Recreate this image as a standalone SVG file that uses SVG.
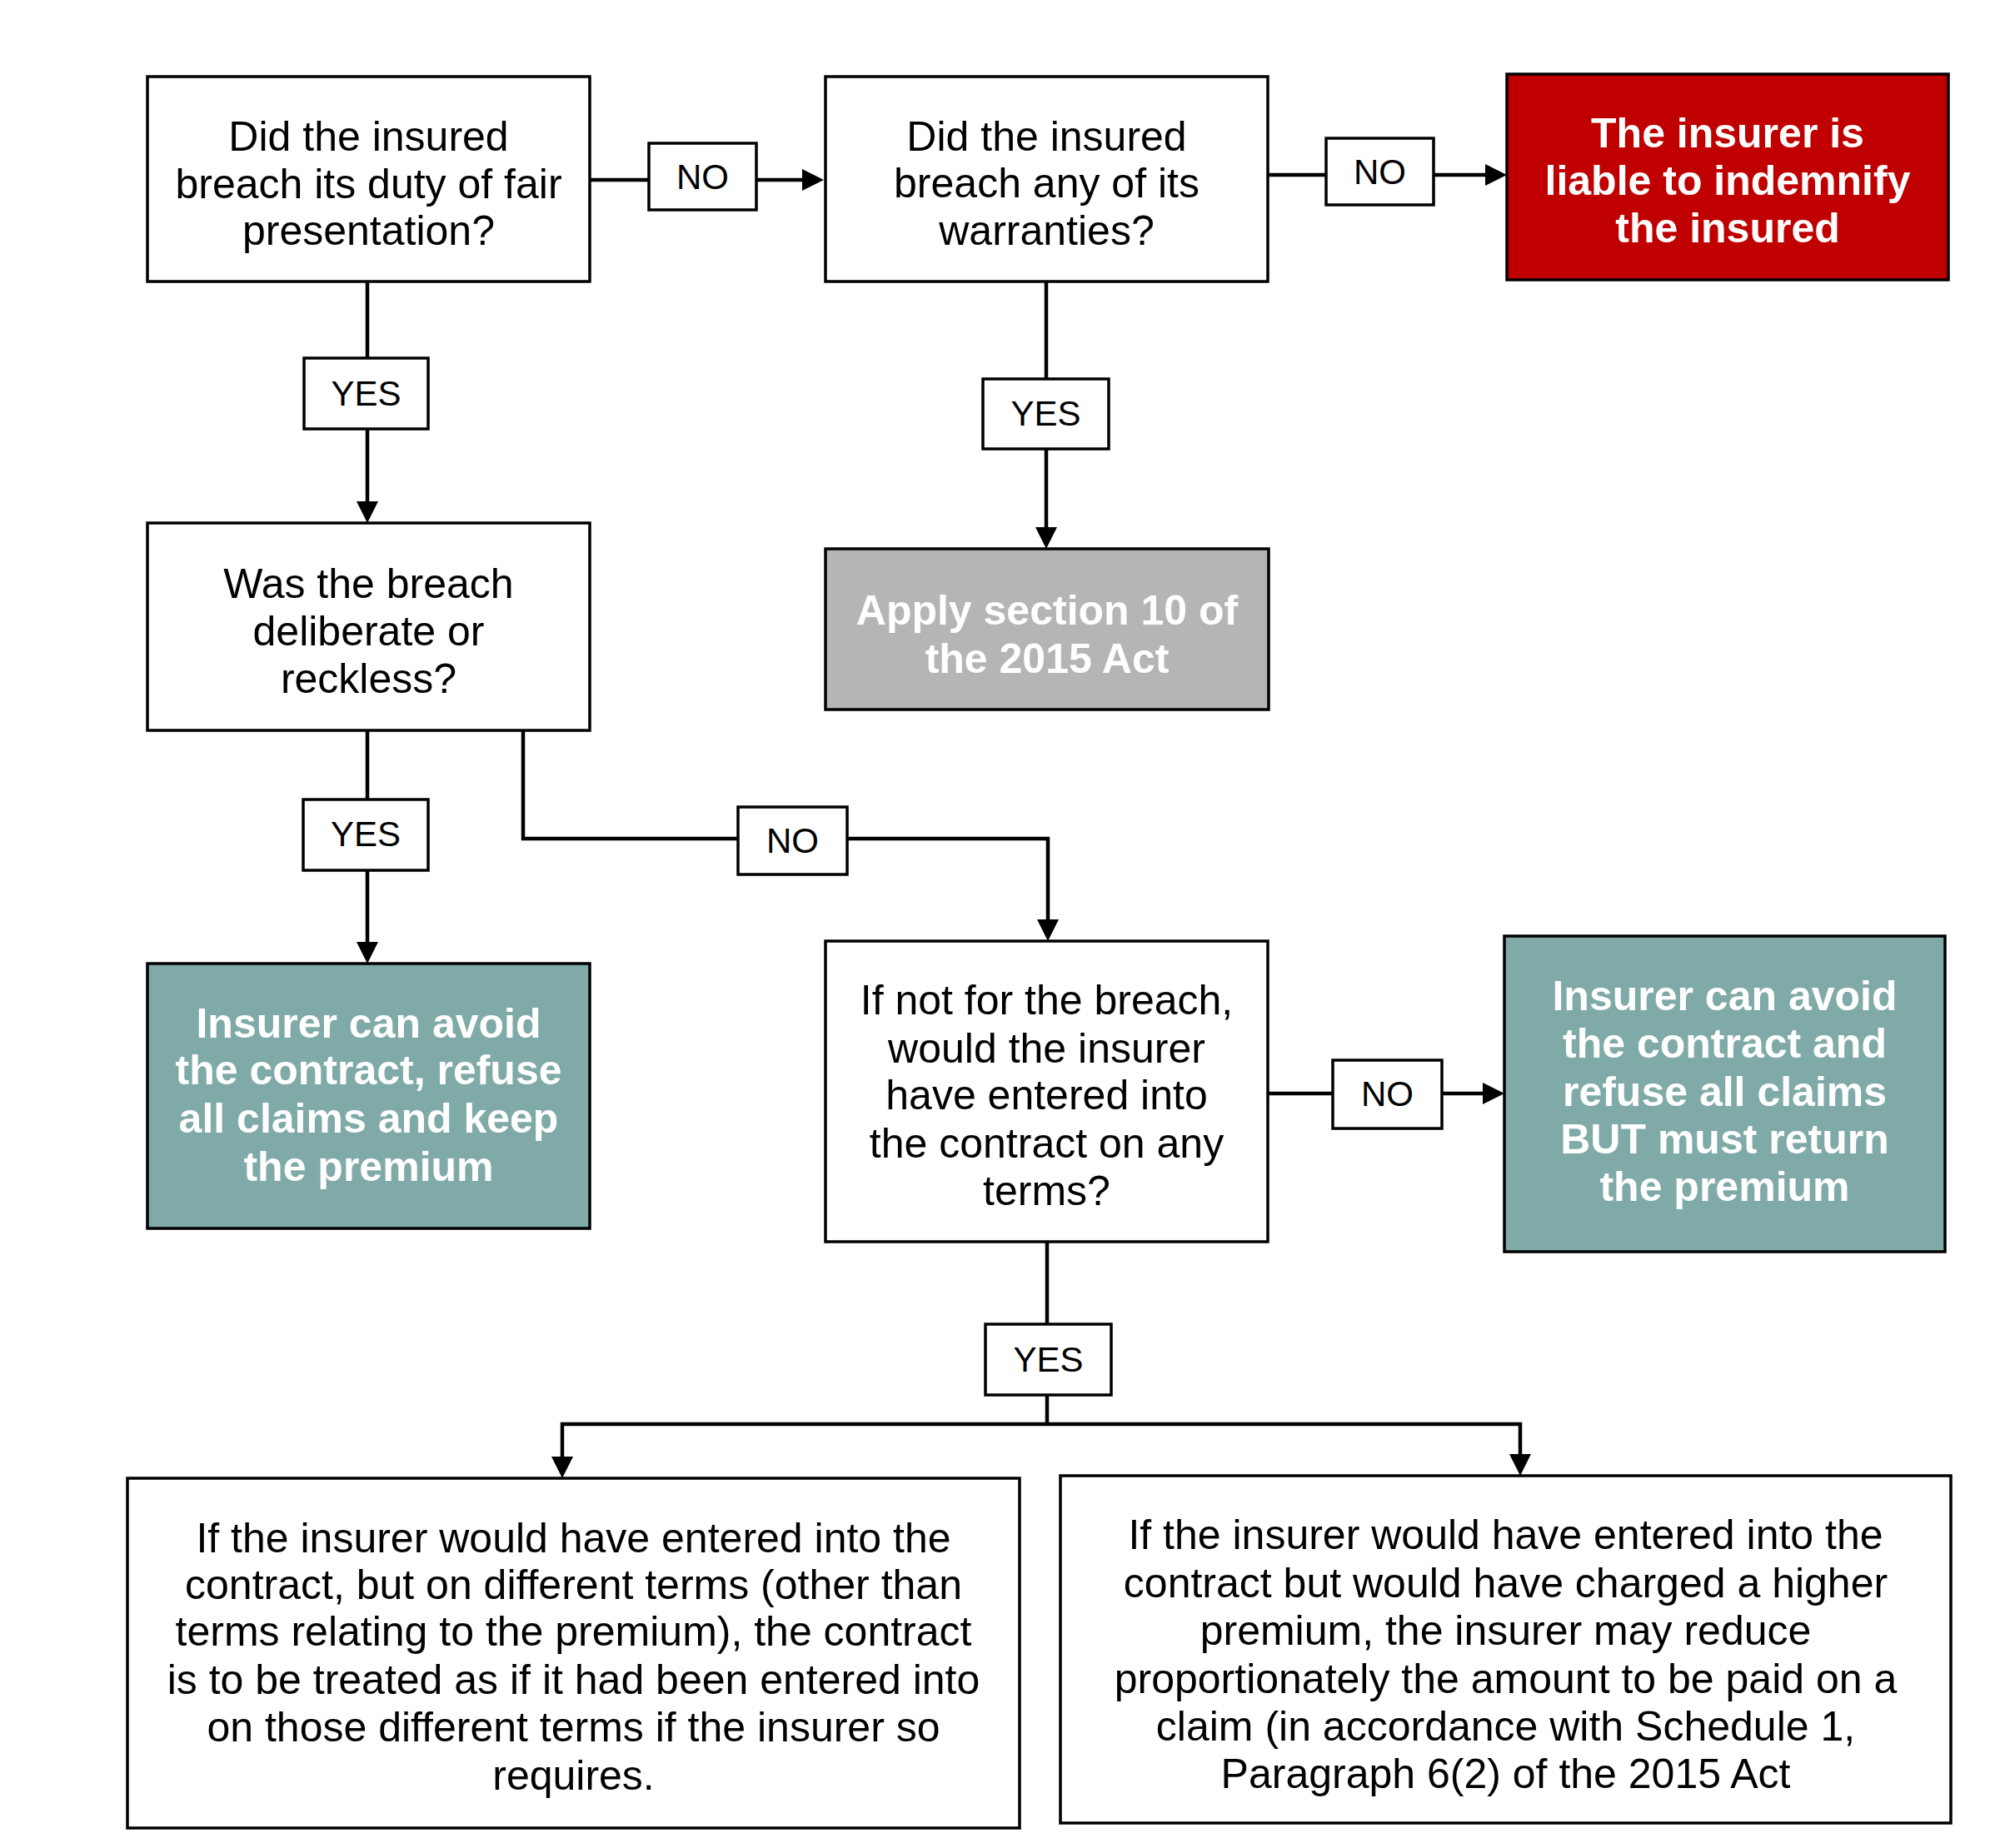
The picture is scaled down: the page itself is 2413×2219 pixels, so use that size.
<svg xmlns="http://www.w3.org/2000/svg" width="2413" height="2219" viewBox="0 0 2413 2219">
<defs>
<marker id="arr" markerUnits="userSpaceOnUse" markerWidth="26" markerHeight="26" refX="15" refY="13" orient="auto">
<path d="M0,0 L26,13 L0,26 Z" fill="#000"/>
</marker>
<style>
.box{fill:#fff;stroke:#000;stroke-width:3.5}
.red{fill:#C00000;stroke:#000;stroke-width:3.5}
.gray{fill:#B5B5B5;stroke:#000;stroke-width:3.5}
.teal{fill:#7FAAA7;stroke:#000;stroke-width:3.5}
.lbl{fill:#fff;stroke:#000;stroke-width:3.5}
.t{font-family:"Liberation Sans",Arial,sans-serif;font-size:50px;fill:#000;text-anchor:middle}
.tb{font-family:"Liberation Sans",Arial,sans-serif;font-size:50px;font-weight:bold;fill:#fff;text-anchor:middle}
.tl{font-family:"Liberation Sans",Arial,sans-serif;font-size:42px;fill:#000;text-anchor:middle}
.c{fill:none;stroke:#000;stroke-width:4.5}
.ca{fill:none;stroke:#000;stroke-width:4.5;marker-end:url(#arr)}
</style>
</defs>
<rect width="2413" height="2219" fill="#fff"/>

<g id="connectors">
<path class="c" d="M708,216 H779"/>
<path class="ca" d="M908,216 H978"/>
<path class="c" d="M1522,210 H1592"/>
<path class="ca" d="M1721,210 H1798"/>
<path class="c" d="M441,338 V430"/>
<path class="ca" d="M441,515 V617"/>
<path class="c" d="M1256,338 V455"/>
<path class="ca" d="M1256,539 V648"/>
<path class="c" d="M441,877 V960"/>
<path class="ca" d="M441,1045 V1146"/>
<path class="c" d="M628,877 V1007 H886"/>
<path class="ca" d="M1017,1007 H1258 V1119"/>
<path class="c" d="M1522,1313 H1600"/>
<path class="ca" d="M1731,1313 H1795"/>
<path class="c" d="M1257,1491 V1590"/>
<path class="c" d="M1257,1675 V1710"/>
<path class="ca" d="M1257,1710 H675 V1764"/>
<path class="ca" d="M1257,1710 H1825 V1761"/>
</g>

<g id="n1">
<rect class="box" x="177" y="92" width="531" height="246"/>
<text class="t" x="442.5" y="181">Did the insured</text>
<text class="t" x="442.5" y="238">breach its duty of fair</text>
<text class="t" x="442.5" y="294">presentation?</text>
</g>
<g id="n2">
<rect class="box" x="991" y="92" width="531" height="246"/>
<text class="t" x="1256.5" y="181">Did the insured</text>
<text class="t" x="1256.5" y="237">breach any of its</text>
<text class="t" x="1256.5" y="294">warranties?</text>
</g>
<g id="n3">
<rect class="red" x="1809" y="89" width="530" height="247"/>
<text class="tb" x="2074" y="177">The insurer is</text>
<text class="tb" x="2074" y="234">liable to indemnify</text>
<text class="tb" x="2074" y="291">the insured</text>
</g>
<g id="l_no1">
<rect class="lbl" x="779" y="172" width="129" height="80"/>
<text class="tl" x="843.5" y="227">NO</text>
</g>
<g id="l_no2">
<rect class="lbl" x="1592" y="166" width="129" height="80"/>
<text class="tl" x="1656.5" y="221">NO</text>
</g>
<g id="l_yes1">
<rect class="lbl" x="365" y="430" width="149" height="85"/>
<text class="tl" x="439.5" y="487">YES</text>
</g>
<g id="l_yes2">
<rect class="lbl" x="1180" y="455" width="151" height="84"/>
<text class="tl" x="1255.5" y="511">YES</text>
</g>
<g id="n4">
<rect class="box" x="177" y="628" width="531" height="249"/>
<text class="t" x="442.5" y="718">Was the breach</text>
<text class="t" x="442.5" y="775">deliberate or</text>
<text class="t" x="442.5" y="832">reckless?</text>
</g>
<g id="n5">
<rect class="gray" x="991" y="659" width="532" height="193"/>
<text class="tb" x="1257" y="750">Apply section 10 of</text>
<text class="tb" x="1257" y="808">the 2015 Act</text>
</g>
<g id="l_yes3">
<rect class="lbl" x="364" y="960" width="150" height="85"/>
<text class="tl" x="439" y="1016">YES</text>
</g>
<g id="l_no3">
<rect class="lbl" x="886" y="969" width="131" height="81"/>
<text class="tl" x="951.5" y="1024">NO</text>
</g>
<g id="n6">
<rect class="teal" x="177" y="1157" width="531" height="318"/>
<text class="tb" x="442.5" y="1246">Insurer can avoid</text>
<text class="tb" x="442.5" y="1302">the contract, refuse</text>
<text class="tb" x="442.5" y="1360">all claims and keep</text>
<text class="tb" x="442.5" y="1418">the premium</text>
</g>
<g id="n7">
<rect class="box" x="991" y="1130" width="531" height="361"/>
<text class="t" x="1256.5" y="1218">If not for the breach,</text>
<text class="t" x="1256.5" y="1276">would the insurer</text>
<text class="t" x="1256.5" y="1332">have entered into</text>
<text class="t" x="1256.5" y="1390">the contract on any</text>
<text class="t" x="1256.5" y="1447">terms?</text>
</g>
<g id="l_no4">
<rect class="lbl" x="1600" y="1273" width="131" height="82"/>
<text class="tl" x="1665.5" y="1328">NO</text>
</g>
<g id="n8">
<rect class="teal" x="1806" y="1124" width="529" height="379"/>
<text class="tb" x="2070.5" y="1213">Insurer can avoid</text>
<text class="tb" x="2070.5" y="1270">the contract and</text>
<text class="tb" x="2070.5" y="1328">refuse all claims</text>
<text class="tb" x="2070.5" y="1385">BUT must return</text>
<text class="tb" x="2070.5" y="1442">the premium</text>
</g>
<g id="l_yes4">
<rect class="lbl" x="1183" y="1590" width="151" height="85"/>
<text class="tl" x="1258.5" y="1647">YES</text>
</g>
<g id="n9">
<rect class="box" x="153" y="1775" width="1071" height="420"/>
<text class="t" x="688.5" y="1864">If the insurer would have entered into the</text>
<text class="t" x="688.5" y="1920">contract, but on different terms (other than</text>
<text class="t" x="688.5" y="1976">terms relating to the premium), the contract</text>
<text class="t" x="688.5" y="2034">is to be treated as if it had been entered into</text>
<text class="t" x="688.5" y="2091">on those different terms if the insurer so</text>
<text class="t" x="688.5" y="2149">requires.</text>
</g>
<g id="n10">
<rect class="box" x="1273" y="1772" width="1069" height="417"/>
<text class="t" x="1807.5" y="1860">If the insurer would have entered into the</text>
<text class="t" x="1807.5" y="1918">contract but would have charged a higher</text>
<text class="t" x="1807.5" y="1975">premium, the insurer may reduce</text>
<text class="t" x="1807.5" y="2033">proportionately the amount to be paid on a</text>
<text class="t" x="1807.5" y="2090">claim (in accordance with Schedule 1,</text>
<text class="t" x="1807.5" y="2147">Paragraph 6(2) of the 2015 Act</text>
</g>
</svg>
